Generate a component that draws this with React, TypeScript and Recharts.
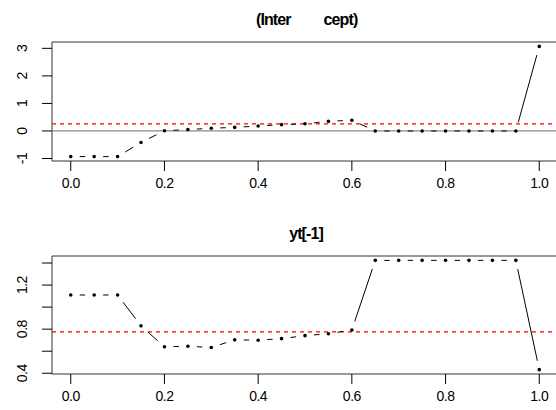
import { LineChart, Line, XAxis, YAxis, ReferenceLine, ReferenceArea } from 'recharts';

// x positions of the estimates
const xValues = [0, 0.05, 0.1, 0.15, 0.2, 0.25, 0.3, 0.35, 0.4, 0.45, 0.5, 0.55, 0.6, 0.65, 0.7, 0.75, 0.8, 0.85, 0.9, 0.95, 1.0];
const xTicks = [0, 0.2, 0.4, 0.6, 0.8, 1.0];

// (Intercept) panel
const interceptValues = [-0.93, -0.93, -0.93, -0.42, 0.01, 0.05, 0.1, 0.13, 0.18, 0.23, 0.26, 0.35, 0.39, 0, 0, 0, 0, 0, 0, 0, 3.07];
const interceptRef = 0.26;
const interceptTicks = [-1, 0, 1, 2, 3];
const interceptLabels = [-1, 0, 1, 2, 3];

// yt[-1] panel
const lagValues = [1.11, 1.11, 1.11, 0.83, 0.64, 0.645, 0.634, 0.703, 0.7, 0.714, 0.741, 0.759, 0.793, 1.424, 1.424, 1.424, 1.424, 1.424, 1.424, 1.424, 0.433];
const lagRef = 0.775;
const lagTicks = [0.4, 0.6, 0.8, 1.0, 1.2, 1.4];
const lagLabels = [0.4, 0.8, 1.2];

const CHART_W = 572;
const LEFT = 52;
const RIGHT = 14;
const X_DOMAIN: [number, number] = [-0.04, 1.04];
const GAP = 9;
const FONT = '"Liberation Sans", Arial, sans-serif';

const XTick = (props: any) => {
  const { x, y, payload } = props;
  return (
    <text x={x} y={y + 15} textAnchor="middle" fontSize={14} fontFamily={FONT} letterSpacing={-0.5} fill="#000">
      {Number(payload.value).toFixed(1)}
    </text>
  );
};

const makeYTick = (labels: number[], digits: number) => (props: any) => {
  const { x, y, payload } = props;
  if (!labels.some((l) => Math.abs(l - payload.value) < 1e-9)) return <g />;
  const bx = x - 13;
  return (
    <text
      x={bx}
      y={y}
      transform={`rotate(-90 ${bx} ${y})`}
      textAnchor="middle"
      fontSize={14}
      fontFamily={FONT}
      letterSpacing={-0.5}
      fill="#000"
    >
      {Number(payload.value).toFixed(digits)}
    </text>
  );
};

type PanelProps = {
  values: number[];
  refLevel: number;
  yTicks: number[];
  yLabels: number[];
  digits: number;
  height: number;
  top: number;
  bottom: number;
  zeroLine?: boolean;
};

const Panel = ({ values, refLevel, yTicks, yLabels, digits, height, top, bottom, zeroLine }: PanelProps) => {
  const lo = Math.min(...values);
  const hi = Math.max(...values);
  const r = hi - lo;
  const yDomain: [number, number] = [lo - 0.04 * r, hi + 0.04 * r];
  const kx = (CHART_W - LEFT - RIGHT) / (X_DOMAIN[1] - X_DOMAIN[0]);
  const ky = (height - top - bottom) / (yDomain[1] - yDomain[0]);
  const points = xValues.map((x, i) => ({ x, y: values[i] }));
  const segments = points.slice(1).map((p, i) => [points[i], p]);

  return (
    <LineChart width={CHART_W} height={height} data={points} margin={{ top, right: RIGHT, left: 0, bottom: 0 }}>
      <XAxis
        dataKey="x"
        type="number"
        domain={X_DOMAIN}
        ticks={xTicks}
        interval={0}
        allowDataOverflow
        axisLine={false}
        tickLine={{ stroke: '#000' }}
        tickSize={10}
        height={bottom}
        tick={<XTick />}
      />
      <YAxis
        type="number"
        domain={yDomain}
        ticks={yTicks}
        interval={0}
        allowDataOverflow
        axisLine={false}
        tickLine={{ stroke: '#000' }}
        tickSize={10}
        width={LEFT}
        tick={makeYTick(yLabels, digits)}
      />
      {zeroLine && <ReferenceLine y={0} stroke="#8a8a8a" strokeWidth={1.2} />}
      <ReferenceLine y={refLevel} stroke="#ff0000" strokeDasharray="4 4" strokeWidth={1.2} />
      {segments.map((seg, i) => {
        const len = Math.hypot((seg[1].x - seg[0].x) * kx, (seg[1].y - seg[0].y) * ky);
        const vis = len - 2 * GAP;
        if (vis <= 0) return null;
        return (
          <Line
            key={`seg-${i}`}
            data={seg}
            dataKey="y"
            type="linear"
            stroke="#000"
            strokeWidth={1}
            strokeDasharray={`0 ${GAP} ${vis} ${len + GAP}`}
            dot={false}
            activeDot={false}
            isAnimationActive={false}
          />
        );
      })}
      <Line
        data={points}
        dataKey="y"
        type="linear"
        stroke="none"
        dot={{ r: 1.8, fill: '#000', stroke: 'none', strokeWidth: 0 }}
        activeDot={false}
        isAnimationActive={false}
      />
      <ReferenceArea
        x1={X_DOMAIN[0]}
        x2={X_DOMAIN[1]}
        y1={yDomain[0]}
        y2={yDomain[1]}
        fill="none"
        fillOpacity={0}
        stroke="#333"
        strokeWidth={1}
      />
    </LineChart>
  );
};

export default function App() {
  return (
    <div style={{ position: 'absolute', left: 0, top: 0, width: 556, height: 410, overflow: 'hidden', background: '#fff' }}>
      <div style={{ position: 'absolute', left: 0, top: 0 }}>
        <Panel
          values={interceptValues}
          refLevel={interceptRef}
          yTicks={interceptTicks}
          yLabels={interceptLabels}
          digits={0}
          height={205}
          top={42}
          bottom={44}
          zeroLine
        />
      </div>
      <div style={{ position: 'absolute', left: 0, top: 205 }}>
        <Panel
          values={lagValues}
          refLevel={lagRef}
          yTicks={lagTicks}
          yLabels={lagLabels}
          digits={1}
          height={205}
          top={51}
          bottom={36}
        />
      </div>
      <svg width={556} height={410} style={{ position: 'absolute', left: 0, top: 0, pointerEvents: 'none' }}>
        <text x={256} y={25} fontSize={16} fontWeight="bold" fontFamily={FONT} letterSpacing={-0.9} fill="#000">
          <tspan>(Inter</tspan>
          <tspan dx={33}>cept)</tspan>
        </text>
        <text x={306} y={239} textAnchor="middle" fontSize={16} fontWeight="bold" fontFamily={FONT} letterSpacing={-0.9} fill="#000">
          yt[-1]
        </text>
      </svg>
    </div>
  );
}
